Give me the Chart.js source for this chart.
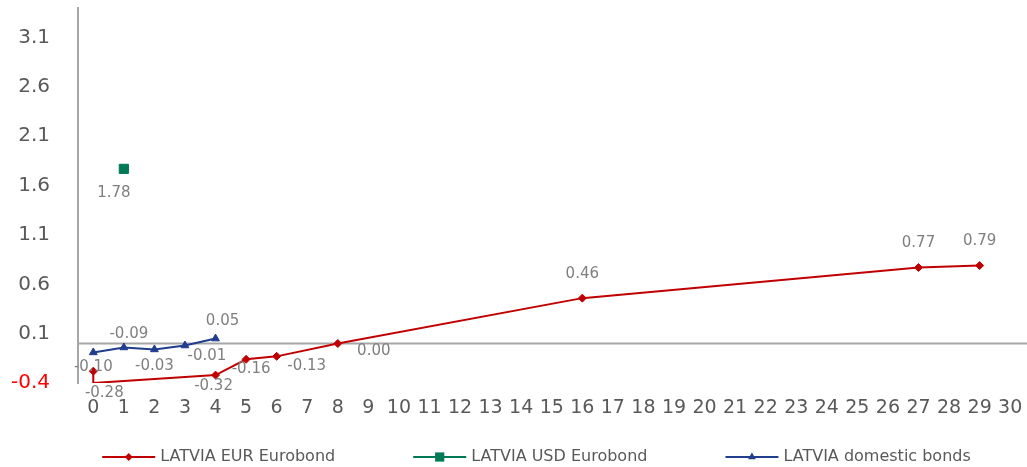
<!DOCTYPE html>
<html>
<head>
<meta charset="utf-8">
<script src="https://cdn.jsdelivr.net/npm/chart.js@4/dist/chart.umd.min.js"></script>
<style>
  html, body { margin: 0; padding: 0; background: #fff; }
  #wrap { width: 1027px; height: 467px; position: relative; }
</style>
</head>
<body>
<div id="wrap"><canvas id="c"></canvas></div>
<script>
// --- data (years to maturity / yield, %) ---
const eurYears = [0, 0, 4, 5, 6, 8, 16, 27, 29];
const eurYield = [-0.28, -0.40, -0.32, -0.16, -0.13, 0.00, 0.46, 0.77, 0.79];
const eurLabels = ['-0.28', '', '-0.32', '-0.16', '-0.13', '0.00', '0.46', '0.77', '0.79'];

const usdYears = [1];
const usdYield = [1.77];
const usdLabels = ['1.78'];

const domYears = [0, 1, 2, 3, 4];
const domYield = [-0.09, -0.04, -0.06, -0.02, 0.05];
const domLabels = ['-0.10', '-0.09', '-0.03', '-0.01', '0.05'];

const yTicks = [-0.4, 0.1, 0.6, 1.1, 1.6, 2.1, 2.6, 3.1];
const xTicks = [0, 1, 2, 3, 4, 5, 6, 7, 8, 9, 10, 11, 12, 13, 14, 15, 16, 17, 18, 19, 20,
  21, 22, 23, 24, 25, 26, 27, 28, 29, 30];

const seriesNames = ['LATVIA EUR Eurobond', 'LATVIA USD Eurobond', 'LATVIA domestic bonds'];

// label offsets from the point (px)
const eurLabelDx = [11, 0, -2, 5, 30, 36, 0, 0, 0];
const eurLabelDy = [22, 0, 11, 10, 10, 8, -24, -24, -24];
const usdLabelDx = [-10];
const usdLabelDy = [24];
const domLabelDx = [0, 5, 0, 22, 7];
const domLabelDy = [15, -13, 17, 11, -17];

const FONT = "'DejaVu Sans', Verdana, sans-serif";
const RED = '#c00000', GREEN = '#007a55', BLUE = '#203d8e';

function toPoints(xs, ys) {
  return xs.map((x, i) => ({ x: x, y: ys[i] }));
}

const labelInfo = [
  { text: eurLabels, dx: eurLabelDx, dy: eurLabelDy },
  { text: usdLabels, dx: usdLabelDx, dy: usdLabelDy },
  { text: domLabels, dx: domLabelDx, dy: domLabelDy }
];

/* zero line across the plot */
const zeroLine = {
  id: 'zeroLine',
  beforeDatasetsDraw(chart) {
    const { ctx, chartArea, scales } = chart;
    const y = scales.y.getPixelForValue(0);
    ctx.save();
    ctx.strokeStyle = '#a6a6a6';
    ctx.lineWidth = 2;
    ctx.beginPath();
    ctx.moveTo(chartArea.left, y);
    ctx.lineTo(chartArea.right, y);
    ctx.stroke();
    ctx.restore();
  }
};

/* value labels next to the points */
const pointLabels = {
  id: 'pointLabels',
  afterDatasetsDraw(chart) {
    const ctx = chart.ctx;
    ctx.save();
    ctx.font = '15px ' + FONT;
    ctx.fillStyle = '#7f7f7f';
    ctx.textAlign = 'center';
    ctx.textBaseline = 'middle';
    chart.data.datasets.forEach((ds, di) => {
      const info = labelInfo[di];
      chart.getDatasetMeta(di).data.forEach((el, i) => {
        if (!info.text[i]) return;
        ctx.fillText(info.text[i], el.x + info.dx[i], el.y + info.dy[i]);
      });
    });
    ctx.restore();
  }
};

/* legend: line + marker + name, drawn under the axis labels */
const lineLegend = {
  id: 'lineLegend',
  afterDraw(chart) {
    const ctx = chart.ctx;
    const lineLen = 53, textGap = 5, itemGap = 78, y = 457;
    ctx.save();
    ctx.font = '16px ' + FONT;
    const widths = chart.data.datasets.map(ds => lineLen + textGap + ctx.measureText(ds.label).width);
    const total = widths.reduce((a, b) => a + b, 0) + itemGap * (widths.length - 1);
    let x = (chart.width - total) / 2 + 23;
    chart.data.datasets.forEach((ds, i) => {
      ctx.strokeStyle = ds.borderColor;
      ctx.fillStyle = ds.backgroundColor;
      ctx.lineWidth = 2;
      ctx.beginPath();
      ctx.moveTo(x, y);
      ctx.lineTo(x + lineLen, y);
      ctx.stroke();
      ctx.lineWidth = 1;
      Chart.helpers.drawPoint(ctx, { pointStyle: ds.pointStyle, radius: ds.legendRadius, rotation: 0 },
        x + lineLen / 2, y);
      ctx.fillStyle = '#595959';
      ctx.textAlign = 'left';
      ctx.textBaseline = 'middle';
      ctx.fillText(ds.label, x + lineLen + textGap, y);
      x += widths[i] + itemGap;
    });
    ctx.restore();
  }
};

new Chart(document.getElementById('c'), {
  type: 'line',
  data: {
    datasets: [
      {
        label: seriesNames[0],
        data: toPoints(eurYears, eurYield),
        borderColor: RED,
        backgroundColor: RED,
        borderWidth: 2,
        pointStyle: 'rectRot',
        pointRadius: ctx => eurLabels[ctx.dataIndex] ? 4 : 0,
        pointBorderWidth: 1,
        legendRadius: 4,
        tension: 0
      },
      {
        label: seriesNames[1],
        data: toPoints(usdYears, usdYield),
        borderColor: GREEN,
        backgroundColor: GREEN,
        borderWidth: 2,
        pointStyle: 'rect',
        pointRadius: 6.5,
        pointBorderWidth: 1,
        legendRadius: 6.5,
        tension: 0
      },
      {
        label: seriesNames[2],
        data: toPoints(domYears, domYield),
        borderColor: BLUE,
        backgroundColor: BLUE,
        borderWidth: 2,
        pointStyle: 'triangle',
        pointRadius: 4.5,
        pointBorderWidth: 1,
        legendRadius: 4.5,
        tension: 0
      }
    ]
  },
  options: {
    responsive: true,
    maintainAspectRatio: false,
    animation: false,
    layout: { autoPadding: false, padding: { top: 8, right: 0, bottom: 0, left: 0 } },
    plugins: {
      legend: { display: false },
      tooltip: { enabled: false }
    },
    scales: {
      x: {
        type: 'linear',
        min: -0.5,
        max: 30.55,
        afterBuildTicks: scale => { scale.ticks = xTicks.map(v => ({ value: v })); },
        afterFit: scale => {
          scale.height = 84;
          scale.paddingLeft = 0;
          scale.paddingRight = 0;
        },
        grid: { display: true, color: 'transparent', drawTicks: false },
        border: { display: false },
        ticks: {
          autoSkip: false,
          maxRotation: 0,
          padding: 14,
          color: '#595959',
          font: { family: FONT, size: 19 },
          callback: v => String(v)
        }
      },
      y: {
        min: -0.4,
        max: 3.4,
        afterBuildTicks: scale => { scale.ticks = yTicks.map(v => ({ value: v })); },
        afterFit: scale => {
          scale.width = 78;
          scale.paddingTop = 0;
          scale.paddingBottom = 0;
        },
        grid: { display: true, color: 'transparent', drawTicks: false },
        border: { display: true, color: '#a6a6a6', width: 2 },
        ticks: {
          padding: 28,
          color: c => Math.abs(c.tick.value + 0.4) < 1e-6 ? '#ff0000' : '#595959',
          font: { family: FONT, size: 20 },
          callback: v => v.toFixed(1)
        }
      }
    }
  },
  plugins: [zeroLine, pointLabels, lineLegend]
});
</script>
</body>
</html>
